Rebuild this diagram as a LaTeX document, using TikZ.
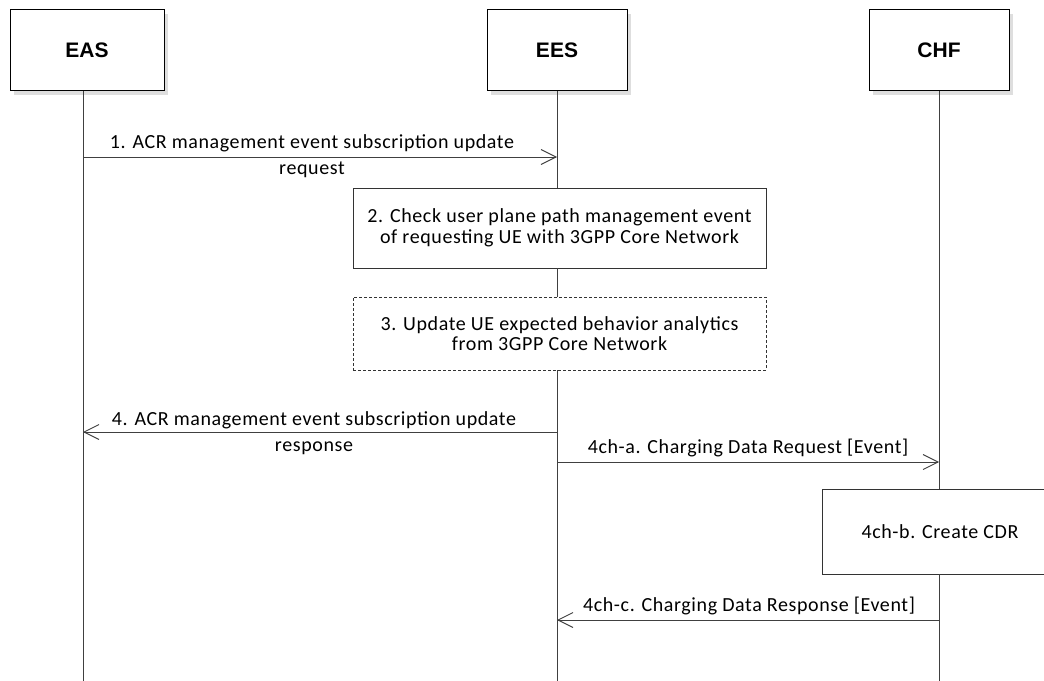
\documentclass[tikz,border=0pt]{standalone}
\usepackage{fontspec}
\setmainfont{Carlito}[LetterSpace=3.0]
\newfontfamily\arialfont{Liberation Sans}
\usetikzlibrary{arrows.meta,shadows}
\tikzset{
  actor/.style={draw=black, line width=1pt, fill=white, minimum width=140pt, minimum height=81pt,
    font=\arialfont\bfseries\fontsize{21}{24}\selectfont,
    drop shadow={shadow xshift=4pt, shadow yshift=-4pt, fill=black!13, opacity=1}},
  life/.style={draw=black!75, line width=0.9pt},
  msg/.style={draw=black!75, line width=0.9pt, -{Straight Barb[length=15pt,width=15pt,line width=0.9pt]}},
  lbl/.style={font=\fontsize{20}{26}\selectfont, align=center, inner sep=0pt},
  stepbox/.style={draw=black!80, line width=0.9pt, fill=white, align=center,
    font=\fontsize{20}{20.5}\selectfont, inner sep=0pt},
}
\begin{document}
\begin{tikzpicture}[x=1pt,y=-1pt]
\useasboundingbox (0,0) rectangle (1044,680);
% actors
\node[actor, minimum width=154pt] (EAS) at (87,50) {EAS};
\node[actor] (EES) at (557,50) {EES};
\node[actor] (CHF) at (939,50) {CHF};
% end points of lifelines
\coordinate (EASend) at (83,682);
\coordinate (EESend) at (557,682);
\coordinate (CHFend) at (939,682);
% step boxes
\node[stepbox, minimum width=413pt, minimum height=80pt] (chk) at (559.5,228)
  {2. Check user plane path management event\\of requesting UE with 3GPP Core Network};
\node[stepbox, dashed, dash pattern=on 3pt off 2pt, minimum width=413pt, minimum height=73pt] (upd) at (559.5,333.5)
  {3. Update UE expected behavior analytics\\from 3GPP Core Network};
\node[stepbox, minimum width=236pt, minimum height=85pt] (cdr) at (940,531.5)
  {4ch-b. Create CDR};
% lifelines
\draw[life] (EAS.south -| EASend) -- (EASend);
\draw[life] (EES.south) -- (EES.south |- chk.north);
\draw[life] (EES.south |- chk.south) -- (EES.south |- upd.north);
\draw[life] (EES.south |- upd.south) -- (EESend);
\draw[life] (CHF.south) -- (CHF.south |- cdr.north);
\draw[life] (CHF.south |- cdr.south) -- (CHFend);
% message anchor points
\coordinate (m1a) at (83,157);
\coordinate (m1b) at (557,157);
\coordinate (m4a) at (557,432);
\coordinate (m4b) at (83,432);
\coordinate (m5a) at (557,462);
\coordinate (m5b) at (939,462);
\coordinate (m6a) at (939,620);
\coordinate (m6b) at (557,620);
% messages
\draw[msg] (m1a) -- (m1b);
\node[lbl] (l1) at (312,156) {1. ACR management event subscription update\\request};
\draw[msg] (m4a) -- (m4b);
\node[lbl] (l4) at (314,433) {4. ACR management event subscription update\\response};
\draw[msg] (m5a) -- (m5b);
\node[lbl, anchor=south] (l5) at (748,457) {4ch-a. Charging Data Request [Event]};
\draw[msg] (m6a) -- (m6b);
\node[lbl, anchor=south] (l6) at (749,615) {4ch-c. Charging Data Response [Event]};
\end{tikzpicture}
\end{document}
